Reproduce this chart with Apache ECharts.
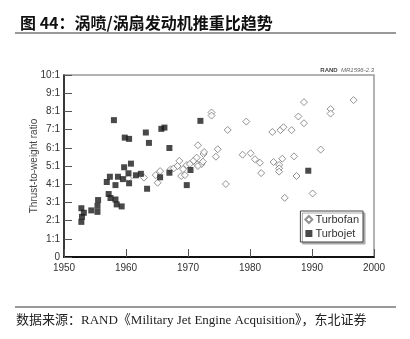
<!DOCTYPE html>
<html><head><meta charset="utf-8">
<script src="https://cdn.jsdelivr.net/npm/echarts@6/dist/echarts.min.js"></script>
<style>html,body{margin:0;padding:0;background:#fff}#c{width:410px;height:339px}</style>
</head><body><div id="c"></div>
<script>
// Data (year, thrust-to-weight ratio x:1)
const turbofanYears  = [1960.4,1962.9,1964.8,1965.5,1965.1,1967.2,1967.7,1968.3,1968.6,1968.9,1969.2,1969.5,1969.8,1970.3,1970.9,1971.4,1971.5,1971.6,1972.2,1972.5,1972.6,1973.8,1973.8,1974.5,1974.8,1976.1,1976.4,1978.8,1979.4,1980.1,1980.8,1981.6,1981.8,1983.6,1983.8,1984.7,1984.7,1984.7,1984.9,1985.2,1985.4,1985.6,1986.7,1987.1,1987.5,1987.8,1988.7,1988.7,1990.1,1991.4,1993.0,1993.0,1996.7,1971.6,1972.4];
const turbofanRatios = [4.32,4.36,4.50,4.72,4.08,4.82,4.87,5.00,5.28,4.45,4.83,4.50,5.05,5.11,5.29,5.46,5.09,6.14,5.11,5.66,5.77,7.94,7.77,5.51,5.92,4.01,6.98,5.62,7.44,5.70,5.37,5.18,4.61,6.87,5.22,5.06,4.87,4.69,6.97,5.40,7.13,3.25,6.97,5.53,4.45,7.72,8.51,7.35,3.49,5.90,8.13,7.88,8.62,5.00,5.24];
const turbojetYears  = [1952.8,1953.2,1952.9,1952.8,1954.4,1955.4,1955.4,1955.5,1957.2,1957.5,1958.3,1958.5,1959.3,1956.9,1957.4,1958.3,1958.7,1959.5,1959.7,1960.4,1960.5,1960.8,1961.6,1962.4,1963.4,1965.5,1967.0,1969.8,1970.4,1958.05,1959.8,1960.5,1963.2,1963.7,1965.7,1966.2,1967.0,1972.0,1989.4];
const turbojetRatios = [2.68,2.43,2.21,1.93,2.56,2.48,2.81,3.13,3.46,3.24,3.16,2.89,2.78,4.12,4.41,3.95,4.41,4.28,4.93,4.60,4.05,5.13,4.49,4.57,3.75,4.38,4.63,3.95,4.78,7.52,6.56,6.49,6.84,6.27,7.04,7.11,5.99,7.48,4.74];
const seriesNames = ['Turbofan','Turbojet'];
const xTicks = {min:1950, max:2000, step:10};
const yTicks = {min:0, max:10, step:1};
const titleText = '图 44：涡喷/涡扇发动机推重比趋势';
const sourceText = '数据来源：RAND《Military Jet Engine Acquisition》，东北证券';
const yAxisName = 'Thrust-to-weight ratio';

const zip = (a,b) => a.map((v,i)=>[v,b[i]]);
const narrow = "'Liberation Sans Narrow','Liberation Sans',Arial,sans-serif";

const chart = echarts.init(document.getElementById('c'), null, {renderer:'canvas'});
chart.setOption({
  animation:false,
  backgroundColor:'#fff',
  title:{
    text:titleText, left:15, top:10,
    textStyle:{fontFamily:"'Noto Sans CJK SC',sans-serif", fontSize:16, fontWeight:'bold', color:'#111'}
  },
  grid:{left:64, right:36, top:75, bottom:82, show:true, borderColor:'#999', borderWidth:1.5, backgroundColor:'transparent'},
  xAxis:{
    type:'value', min:xTicks.min, max:xTicks.max, interval:xTicks.step,
    axisLine:{lineStyle:{color:'#111', width:2}},
    axisTick:{inside:true, length:8, lineStyle:{color:'#555', width:1}},
    axisLabel:{color:'#333', fontSize:10, fontFamily:narrow, margin:6, formatter:v => String(v)},
    splitLine:{show:false}
  },
  yAxis:{
    type:'value', min:yTicks.min, max:yTicks.max, interval:yTicks.step,
    name:yAxisName, nameLocation:'middle', nameGap:25, nameMoveOverlap:false,
    nameTextStyle:{color:'#444', fontSize:10, fontFamily:narrow},
    axisLine:{show:true, lineStyle:{color:'#111', width:1.5}},
    axisTick:{inside:true, length:8, lineStyle:{color:'#555', width:1}},
    axisLabel:{color:'#333', fontSize:10, fontFamily:narrow, margin:4,
      formatter:v => v===0 ? '0' : v+':1'},
    splitLine:{show:false}
  },
  legend:{
    orient:'vertical', right:47, top:211,
    data:seriesNames,
    itemWidth:7, itemHeight:7, itemGap:3,
    padding:[3,4,3,4],
    backgroundColor:'#fff', borderColor:'#444', borderWidth:1,
    shadowColor:'#aaa', shadowOffsetX:2, shadowOffsetY:2, shadowBlur:0,
    textStyle:{color:'#333', fontSize:11, fontFamily:narrow, padding:[0,0,0,-2]}
  },
  series:[
    {name:seriesNames[0], type:'scatter', symbol:'diamond', symbolSize:7,
     itemStyle:{color:'#fff', borderColor:'#777', borderWidth:1},
     data:zip(turbofanYears, turbofanRatios), z:3},
    {name:seriesNames[1], type:'scatter', symbol:'rect', symbolSize:6,
     itemStyle:{color:'#1c1c1c'},
     data:zip(turbojetYears, turbojetRatios), z:4}
  ],
  graphic:[
    {type:'line', shape:{x1:15,y1:33,x2:396,y2:33}, style:{stroke:'#777', lineWidth:1.5}},
    {type:'line', shape:{x1:15,y1:307,x2:396,y2:307}, style:{stroke:'#777', lineWidth:1.5}},
    {type:'text', x:374, y:70, style:{
      text:'{b|RAND} {i|MR1596-2.3}', align:'right', verticalAlign:'middle',
      rich:{b:{fontSize:6, fontWeight:'bold', fill:'#444', fontFamily:narrow},
            i:{fontSize:6, fontStyle:'italic', fill:'#666', fontFamily:narrow}}}},
    {type:'text', x:16, y:321, style:{
      text:sourceText, verticalAlign:'middle', fill:'#222',
      font:"13px 'Liberation Serif','Times New Roman','Noto Sans CJK SC',serif"}}
  ]
});
</script></body></html>
